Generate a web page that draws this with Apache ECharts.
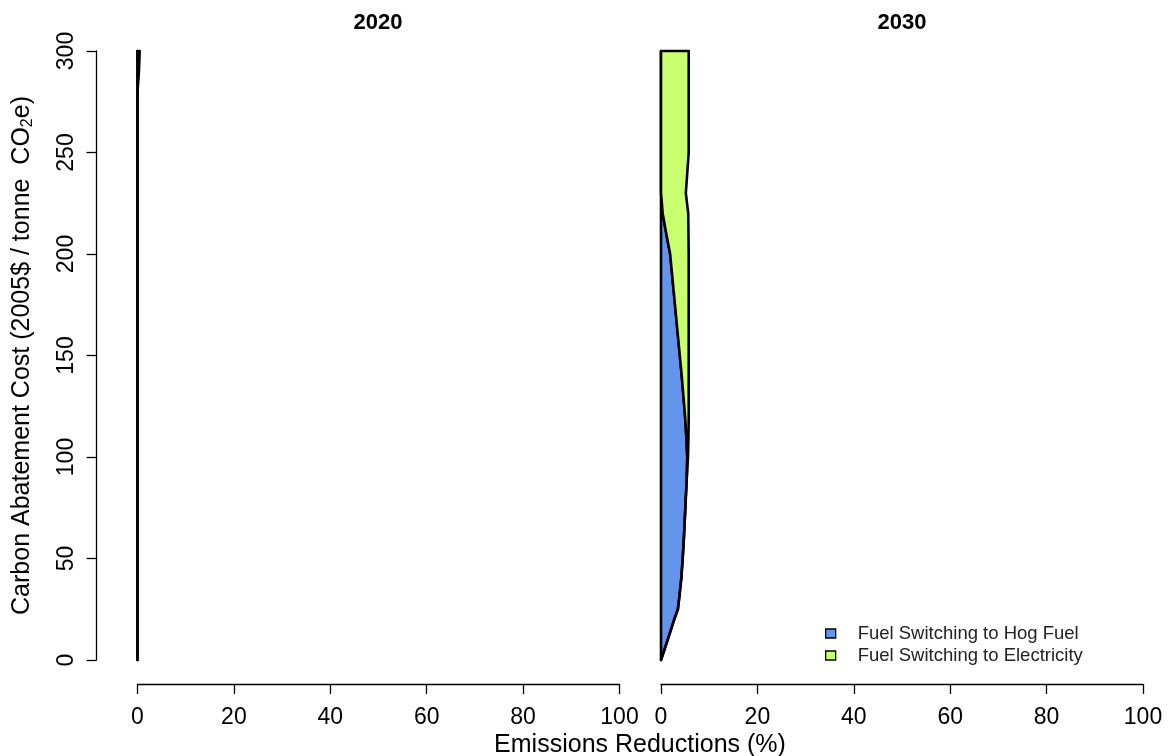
<!DOCTYPE html>
<html>
<head>
<meta charset="utf-8">
<title>Carbon abatement cost curves</title>
<script src="https://cdn.jsdelivr.net/npm/echarts@6/dist/echarts.min.js"></script>
<style>
  html, body { margin: 0; padding: 0; background: #fff; }
  #main { width: 1170px; height: 756px; }
</style>
</head>
<body>
<div id="main"></div>
<script>
// cost levels (2005$ / tonne CO2e) and emissions reductions (%) at each level
var costLevels = [0, 10, 20, 25, 30, 40, 50, 60, 70, 80, 90, 100, 110, 120, 130, 140,
                  150, 160, 170, 180, 190, 200, 210, 220, 230, 240, 250, 260, 270, 280, 290, 300];

var hog2020  = [0, 0, 0, 0, 0, 0, 0, 0, 0, 0, 0, 0, 0, 0, 0, 0,
                0, 0, 0, 0, 0, 0, 0, 0, 0, 0, 0, 0, 0, 0, 0, 0];
var elec2020 = [0, 0, 0, 0, 0, 0, 0, 0, 0, 0, 0, 0, 0, 0, 0, 0,
                0, 0, 0, 0, 0, 0, 0, 0, 0, 0, 0, 0, 0, 0, 0.3, 0.45];

var hog2030  = [0, 1.4, 2.75, 3.5, 3.75, 4.2, 4.5, 4.75, 4.95, 5.15, 5.35, 5.45, 5.25, 5.0, 4.65, 4.3,
                3.9, 3.5, 3.1, 2.7, 2.3, 1.9, 1.1, 0.35, 0, 0, 0, 0, 0, 0, 0, 0];
var elec2030 = [0, 0, 0, 0, 0, 0, 0, 0, 0, 0, 0, 0.15, 0.45, 0.75, 1.1, 1.45,
                1.85, 2.25, 2.65, 3.05, 3.45, 3.85, 4.6, 5.3, 5.15, 5.45, 5.75, 5.75, 5.75, 5.75, 5.75, 5.75];

var xTicks = [0, 20, 40, 60, 80, 100];
var yTicks = [0, 50, 100, 150, 200, 250, 300];

var names = ['Fuel Switching to Hog Fuel', 'Fuel Switching to Electricity'];
var colors = ['#6495ED', '#CAFF70'];
var font = '"Liberation Sans", Arial, Helvetica, sans-serif';

var myChart = echarts.init(document.getElementById('main'));

// stacked band: each row is [lower, upper, cost]
function band(name, color, gridIdx, base, vals) {
    var data = costLevels.map(function (c, i) {
        return [base[i], base[i] + vals[i], c];
    });
    return {
        name: name,
        type: 'custom',
        xAxisIndex: gridIdx,
        yAxisIndex: gridIdx,
        clip: false,
        itemStyle: { color: color },
        encode: { x: [0, 1], y: 2 },
        data: data,
        renderItem: function (params, api) {
            if (params.dataIndexInside > 0) return null;
            var n = params.dataInsideLength;
            var pts = [];
            for (var i = 0; i < n; i++) pts.push(api.coord([api.value(1, i), api.value(2, i)]));
            for (var j = n - 1; j >= 0; j--) pts.push(api.coord([api.value(0, j), api.value(2, j)]));
            return {
                type: 'polygon',
                shape: { points: pts },
                style: { fill: color, stroke: '#000', lineWidth: 2.6, lineJoin: 'round' }
            };
        }
    };
}

var zeros = costLevels.map(function () { return 0; });

var axisLine = { show: true, onZero: false, lineStyle: { color: '#000', width: 1.3 } };
var axisTick = { show: true, length: 10, lineStyle: { color: '#000', width: 1.3 } };

function xAxisFor(idx) {
    return {
        type: 'value', gridIndex: idx, min: xTicks[0], max: xTicks[xTicks.length - 1],
        interval: xTicks[1] - xTicks[0], offset: 24,
        axisLine: axisLine, axisTick: axisTick, splitLine: { show: false },
        axisLabel: { fontSize: 23, color: '#000', margin: 22, fontFamily: font }
    };
}

var option = {
    backgroundColor: '#fff',
    animation: false,
    grid: [
        { left: 137.5, width: 482, top: 51, height: 609 },
        { left: 661, width: 482, top: 51, height: 609 }
    ],
    xAxis: [xAxisFor(0), xAxisFor(1)],
    yAxis: [
        {
            type: 'value', gridIndex: 0, min: yTicks[0], max: yTicks[yTicks.length - 1],
            interval: yTicks[1] - yTicks[0], offset: 41,
            axisLine: axisLine, axisTick: axisTick, splitLine: { show: false },
            axisLabel: { fontSize: 23, color: '#000', margin: 18, rotate: 90, fontFamily: font },
            name: 'Carbon Abatement Cost (2005$ / tonne  CO{sub|2}e)',
            nameLocation: 'middle', nameRotate: 90, nameGap: 61,
            nameTextStyle: {
                fontSize: 25, color: '#000', fontFamily: font, lineHeight: 27,
                rich: { sub: { fontSize: 16, verticalAlign: 'bottom', fontFamily: font, color: '#000' } }
            }
        },
        {
            type: 'value', gridIndex: 1, min: yTicks[0], max: yTicks[yTicks.length - 1],
            show: false, splitLine: { show: false }
        }
    ],
    legend: {
        orient: 'vertical', left: 820, top: 619,
        data: names, icon: 'rect', selectedMode: false,
        itemWidth: 10, itemHeight: 9, itemGap: 3,
        itemStyle: { borderColor: '#000', borderWidth: 1.3 },
        textStyle: { fontSize: 18.5, color: '#222', fontFamily: font, lineHeight: 17, padding: [0, 0, 0, 17] }
    },
    graphic: [
        { type: 'text', x: 378, y: 23, style: { text: '2020', fontSize: 22, fontWeight: 'bold', fontFamily: font, fill: '#000', align: 'center', verticalAlign: 'middle' } },
        { type: 'text', x: 902, y: 23, style: { text: '2030', fontSize: 22, fontWeight: 'bold', fontFamily: font, fill: '#000', align: 'center', verticalAlign: 'middle' } },
        { type: 'text', x: 640, y: 745, style: { text: 'Emissions Reductions (%)', fontSize: 25, fontFamily: font, fill: '#000', align: 'center', verticalAlign: 'middle' } }
    ],
    series: [
        band(names[0], colors[0], 0, zeros, hog2020),
        band(names[1], colors[1], 0, hog2020, elec2020),
        band(names[0], colors[0], 1, zeros, hog2030),
        band(names[1], colors[1], 1, hog2030, elec2030)
    ]
};

myChart.setOption(option);
</script>
</body>
</html>
